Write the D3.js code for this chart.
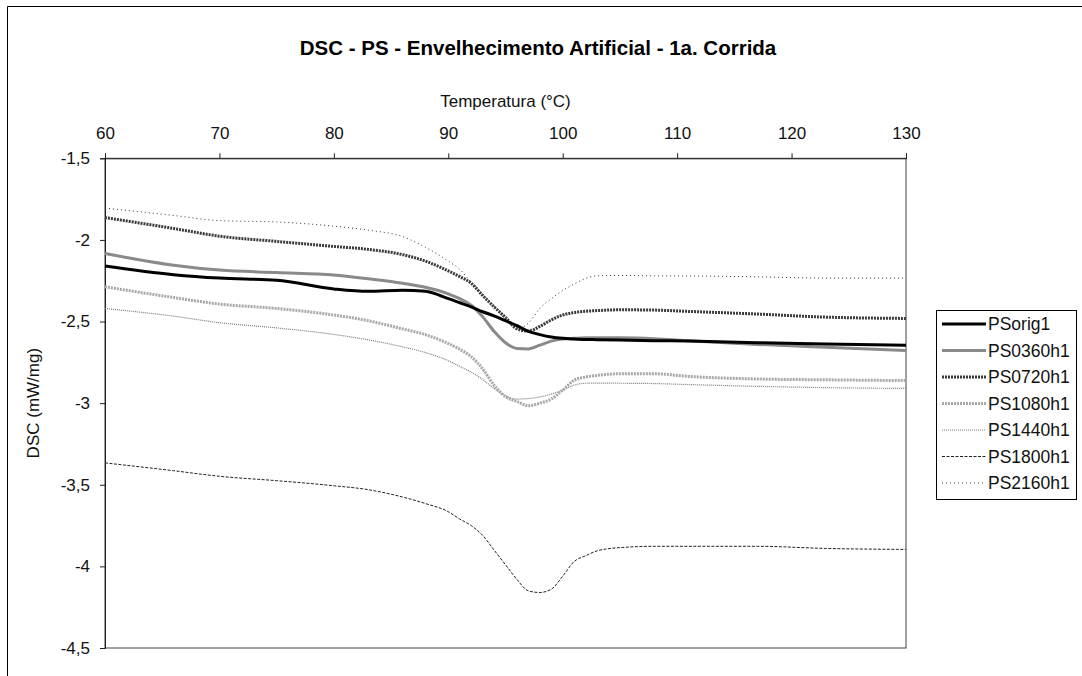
<!DOCTYPE html>
<html>
<head>
<meta charset="utf-8">
<script src="https://cdn.jsdelivr.net/npm/d3@7"></script>
<style>
  html, body { margin: 0; padding: 0; background: #fff; }
  svg { display: block; font-family: "Liberation Sans", Arial, sans-serif; }
</style>
</head>
<body>
<svg id="chart" width="1082" height="676"></svg>
<script>
// Temperature grid (°C) shared by all DSC runs
const temps = [60, 66, 70, 75, 80, 83, 86, 88, 90, 91, 92, 93, 94, 95, 96, 97, 98, 99, 100, 101, 102, 103, 105, 108, 111, 117, 123, 130];

// DSC signal (mW/mg) for each ageing time
const psOrig1   = [-2.160, -2.213, -2.234, -2.247, -2.300, -2.315, -2.308, -2.315, -2.360, -2.385, -2.410, -2.440, -2.465, -2.495, -2.525, -2.560, -2.580, -2.595, -2.603, -2.607, -2.610, -2.611, -2.613, -2.617, -2.620, -2.630, -2.637, -2.645];
const ps0360h1  = [-2.083, -2.155, -2.185, -2.200, -2.215, -2.238, -2.265, -2.290, -2.330, -2.360, -2.400, -2.470, -2.560, -2.630, -2.665, -2.668, -2.645, -2.620, -2.607, -2.603, -2.600, -2.600, -2.600, -2.605, -2.618, -2.640, -2.658, -2.677];
const ps0720h1  = [-1.863, -1.930, -1.977, -2.009, -2.040, -2.058, -2.090, -2.130, -2.190, -2.225, -2.265, -2.340, -2.410, -2.475, -2.545, -2.558, -2.530, -2.490, -2.460, -2.445, -2.437, -2.433, -2.428, -2.430, -2.438, -2.454, -2.473, -2.481];
const ps1080h1  = [-2.287, -2.353, -2.393, -2.420, -2.460, -2.495, -2.545, -2.580, -2.635, -2.670, -2.715, -2.790, -2.890, -2.960, -2.990, -3.016, -3.000, -2.975, -2.920, -2.860, -2.840, -2.830, -2.820, -2.820, -2.836, -2.852, -2.857, -2.862];
const ps1440h1  = [-2.420, -2.467, -2.507, -2.539, -2.579, -2.612, -2.655, -2.690, -2.740, -2.775, -2.810, -2.855, -2.910, -2.955, -2.975, -2.972, -2.962, -2.945, -2.920, -2.890, -2.878, -2.877, -2.878, -2.880, -2.886, -2.897, -2.905, -2.910];
const ps1800h1  = [-3.366, -3.414, -3.448, -3.475, -3.506, -3.530, -3.575, -3.615, -3.665, -3.710, -3.750, -3.810, -3.900, -3.990, -4.080, -4.150, -4.160, -4.140, -4.060, -3.970, -3.935, -3.905, -3.885, -3.877, -3.877, -3.877, -3.890, -3.896];
const ps2160h1  = [-1.805, -1.850, -1.882, -1.890, -1.916, -1.940, -1.980, -2.045, -2.130, -2.180, -2.260, -2.330, -2.405, -2.490, -2.545, -2.510, -2.420, -2.360, -2.310, -2.270, -2.236, -2.220, -2.218, -2.220, -2.221, -2.226, -2.234, -2.234];

const seriesNames = ["PSorig1", "PS0360h1", "PS0720h1", "PS1080h1", "PS1440h1", "PS1800h1", "PS2160h1"];
const seriesValues = [psOrig1, ps0360h1, ps0720h1, ps1080h1, ps1440h1, ps1800h1, ps2160h1];

const xTicks = [60, 70, 80, 90, 100, 110, 120, 130];
const yTicks = [-1.5, -2, -2.5, -3, -3.5, -4, -4.5];

const titleText = "DSC - PS - Envelhecimento Artificial - 1a. Corrida";
const xTitle = "Temperatura (°C)";
const yTitle = "DSC (mW/mg)";

// Line appearance per run
const styles = [
  { stroke: "#000000", width: 3,   dash: null },
  { stroke: "#8a8a8a", width: 3,   dash: null },
  { stroke: "#3a3a3a", width: 3,   dash: "2,1" },
  { stroke: "#a8a8a8", width: 3,   dash: "2,1" },
  { stroke: "#7a7a7a", width: 1.2, dash: "1,1" },
  { stroke: "#222222", width: 1,   dash: "3,1.5" },
  { stroke: "#333333", width: 1,   dash: "1,3" }
];

const svg = d3.select("#chart");
const W = 1082, H = 676;
const plot = { left: 105, right: 906, top: 158.3, bottom: 648 };

svg.append("rect").attr("width", W).attr("height", H).attr("fill", "#fff");

// Outer chart frame (top and left edges visible)
svg.append("path")
  .attr("d", `M7.5,${H} V6.5 H${W}`)
  .attr("fill", "none").attr("stroke", "#000").attr("stroke-width", 1);

const x = d3.scaleLinear().domain([60, 130]).range([plot.left, plot.right]);
const y = d3.scaleLinear().domain([-1.5, -4.5]).range([plot.top, plot.bottom]);

// Plot area frame
svg.append("rect")
  .attr("x", plot.left).attr("y", plot.top)
  .attr("width", plot.right - plot.left).attr("height", plot.bottom - plot.top)
  .attr("fill", "none").attr("stroke", "#404040").attr("stroke-width", 1);

// Decimal comma and plain hyphen for negatives
const fmtComma = d => String(d).replace(".", ",");

// X axis along the top
const xAxis = svg.append("g")
  .attr("transform", `translate(0,${plot.top})`)
  .call(d3.axisTop(x).tickValues(xTicks).tickSize(5).tickPadding(14).tickFormat(d => String(d)));
xAxis.select(".domain").attr("stroke", "#202020");
xAxis.selectAll(".tick line").attr("stroke", "#202020");
xAxis.selectAll("text").attr("font-size", 17).attr("fill", "#111")
  .attr("font-family", "Liberation Sans, Arial, sans-serif");

// Y axis on the left
const yAxis = svg.append("g")
  .attr("transform", `translate(${plot.left},0)`)
  .call(d3.axisLeft(y).tickValues(yTicks).tickSize(5).tickPadding(10).tickFormat(fmtComma));
yAxis.select(".domain").attr("stroke", "#202020");
yAxis.selectAll(".tick line").attr("stroke", "#202020");
yAxis.selectAll("text").attr("font-size", 17).attr("fill", "#111")
  .attr("font-family", "Liberation Sans, Arial, sans-serif");

// Titles
svg.append("text")
  .attr("x", 538).attr("y", 55)
  .attr("text-anchor", "middle")
  .attr("font-size", 20.5).attr("font-weight", "bold")
  .text(titleText);

svg.append("text")
  .attr("x", (plot.left + plot.right) / 2).attr("y", 107)
  .attr("text-anchor", "middle")
  .attr("font-size", 17).attr("fill", "#111")
  .text(xTitle);

svg.append("text")
  .attr("transform", `translate(39,${(plot.top + plot.bottom) / 2}) rotate(-90)`)
  .attr("text-anchor", "middle")
  .attr("font-size", 17).attr("fill", "#111")
  .text(yTitle);

// Curves
const line = d3.line()
  .x((d, i) => x(temps[i]))
  .y(d => y(d))
  .curve(d3.curveMonotoneX);

const drawOrder = [6, 5, 4, 3, 2, 1, 0];
drawOrder.forEach(k => {
  const s = styles[k];
  svg.append("path")
    .datum(seriesValues[k])
    .attr("d", line)
    .attr("fill", "none")
    .attr("stroke", s.stroke)
    .attr("stroke-width", s.width)
    .attr("stroke-dasharray", s.dash)
    .attr("stroke-linejoin", "round");
});

// Legend
const lg = { x: 936.5, y: 310.5, w: 140, h: 189, row: 26.5, first: 324 };
svg.append("rect")
  .attr("x", lg.x).attr("y", lg.y).attr("width", lg.w).attr("height", lg.h)
  .attr("fill", "#fff").attr("stroke", "#000").attr("stroke-width", 1);

seriesNames.forEach((name, i) => {
  const cy = lg.first + i * lg.row;
  const s = styles[i];
  svg.append("line")
    .attr("x1", 942).attr("x2", 986).attr("y1", cy).attr("y2", cy)
    .attr("stroke", s.stroke).attr("stroke-width", s.width)
    .attr("stroke-dasharray", s.dash);
  svg.append("text")
    .attr("x", 988).attr("y", cy + 6.3)
    .attr("font-size", 17.5).attr("fill", "#111")
    .text(name);
});
</script>
</body>
</html>
